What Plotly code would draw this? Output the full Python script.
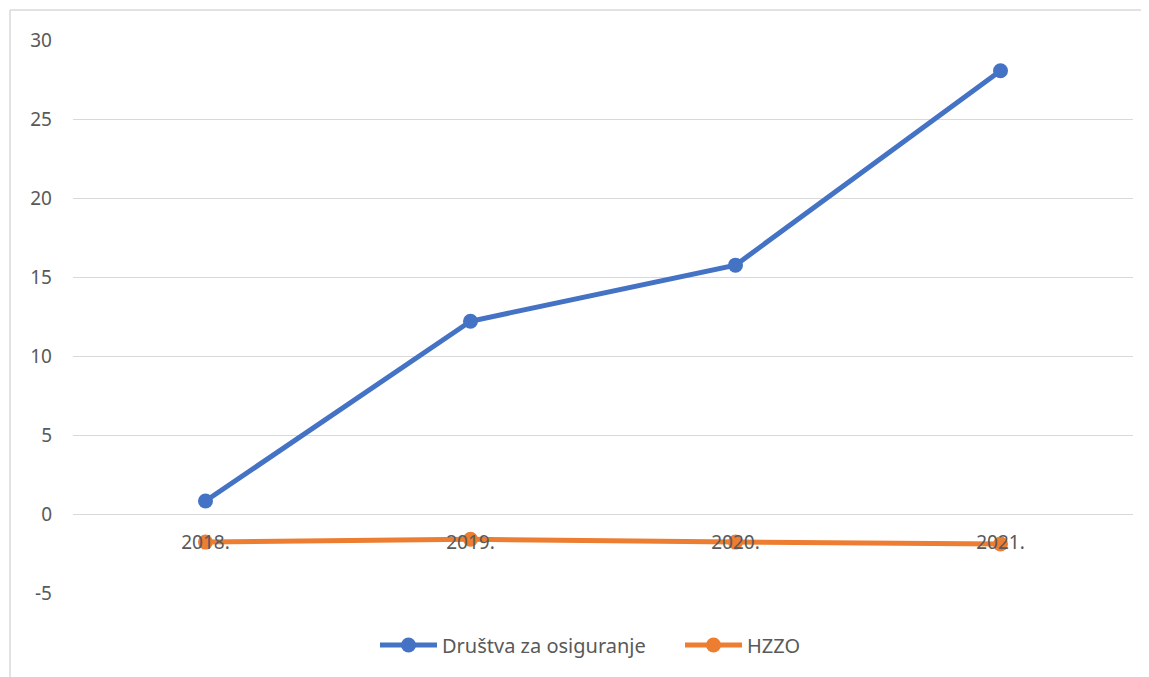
import plotly.graph_objects as go

years = ["2018.", "2019.", "2020.", "2021."]
drustva = [0.82, 12.2, 15.75, 28.05]
hzzo = [-1.78, -1.6, -1.78, -1.9]
y_min, y_max = -5, 30
y_ticks = [-5, 0, 5, 10, 15, 20, 25, 30]
y_tick_text = [str(v) for v in y_ticks]

OFF = 8  # page body margin offset
W, H = 1149 - OFF, 677 - OFF
# plot area in screen coords: x 73..1133, y 40..593
ml, mt = 73 - OFF, 40 - OFF
pw, ph = 1060, 553
mr, mb = W - ml - pw, H - mt - ph

FS = 19
font = dict(family="Noto Sans, Liberation Sans, sans-serif", size=FS, color="#595959")


def px_x(x):
    return (x - OFF - ml) / pw


def px_y(y):
    return 1 - (y - OFF - mt) / ph


fig = go.Figure()
fig.add_trace(go.Scatter(x=years, y=drustva, name="Društva za osiguranje", mode="lines+markers",
                         line=dict(color="#4472C4", width=5), marker=dict(size=15, color="#4472C4")))
fig.add_trace(go.Scatter(x=years, y=hzzo, name="HZZO", mode="lines+markers",
                         line=dict(color="#ED7D31", width=5), marker=dict(size=15, color="#ED7D31")))

fig.update_layout(
    width=W, height=H,
    margin=dict(l=ml, r=mr, t=mt, b=mb),
    paper_bgcolor="white", plot_bgcolor="white",
    font=font,
    showlegend=True,
    legend=dict(orientation="h", x=px_x(375), xanchor="left", y=px_y(645), yanchor="middle",
                font=dict(size=20, color="#595959"), traceorder="normal",
                entrywidth=233, itemwidth=57),
    xaxis=dict(type="category", showgrid=False, showline=False, ticks="",
               anchor="free", position=(0 - y_min) / (y_max - y_min), ticklabelstandoff=15,
               tickfont=dict(size=FS, color="#595959"), range=[-0.5, 3.5], zeroline=False),
    yaxis=dict(range=[y_min, y_max], tickvals=y_ticks, ticktext=y_tick_text, showgrid=True,
               gridcolor="#D9D9D9", gridwidth=1.2, zeroline=False, showline=False, ticks="",
               ticklabelstandoff=20, tickfont=dict(size=FS, color="#595959")),
    shapes=[
        dict(type="line", xref="paper", yref="paper", x0=px_x(10), x1=px_x(1150), y0=px_y(10), y1=px_y(10),
             line=dict(color="#D9D9D9", width=1.5)),
        dict(type="line", xref="paper", yref="paper", x0=px_x(10), x1=px_x(10), y0=px_y(10), y1=px_y(678),
             line=dict(color="#D9D9D9", width=1.5)),
    ],
)

fig.write_html("out.html")
